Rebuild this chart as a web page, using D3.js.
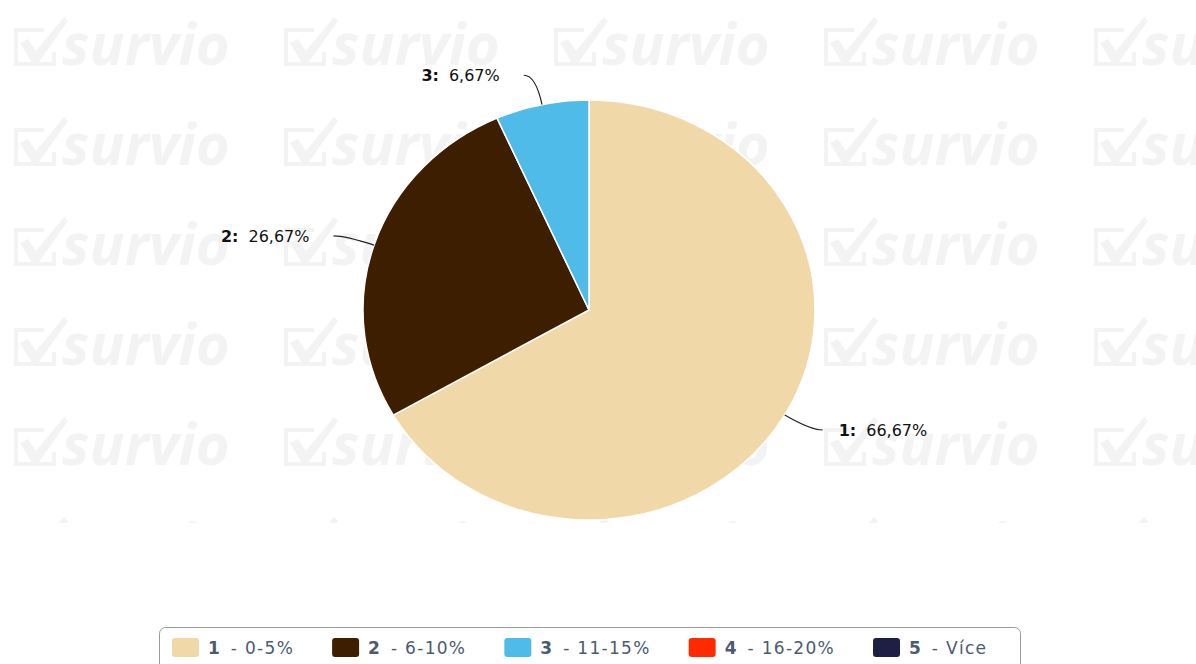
<!DOCTYPE html>
<html>
<head>
<meta charset="utf-8">
<script src="https://cdn.jsdelivr.net/npm/d3@7"></script>
<style>
  body { margin: 0; background: #fff; }
  svg { display: block; font-family: "DejaVu Sans", sans-serif; }
</style>
</head>
<body>
<div id="chart"></div>
<script>
// answer codes, their labels and shares (in %)
var categories = ["1", "2", "3", "4", "5"];
var categoryNames = ["0-5%", "6-10%", "11-15%", "16-20%", "Více"];
var percentages = [66.67, 26.67, 6.67, 0, 0];
var colors = ["#f0d8a8", "#3d1f00", "#4fbbe8", "#ff2a00", "#1e1f45"];

var width = 1196, height = 664;
var cx = 589, cy = 310, ry = 210, rx = 226;

var svg = d3.select("#chart").append("svg")
	.attr("width", width)
	.attr("height", height);

// watermark tiles
var defs = svg.append("defs");
defs.append("clipPath").attr("id", "wm-clip")
	.append("rect").attr("x", 0).attr("y", 0).attr("width", width).attr("height", 523);

var wm = svg.append("g").attr("clip-path", "url(#wm-clip)").attr("fill", "#f3f3f3");
d3.range(0, 6).forEach(function(row) {
	d3.range(0, 5).forEach(function(col) {
		var g = wm.append("g").attr("transform", "translate(" + (12 + col * 270) + "," + (15 + row * 100) + ")");
		// box
		g.append("path")
			.attr("d", "M2,13 H32 V17 H6 V47 H40 V37 H44 V51 H2 Z");
		// check
		g.append("path")
			.attr("d", "M8,28 L16,24 L24,36 L52,2 L56,6 L26,48 L20,48 Z");
		g.append("text")
			.attr("x", 50).attr("y", 50)
			.attr("font-size", 58)
			.attr("font-weight", "bold")
			.attr("font-style", "italic")
			.attr("font-family", "'Open Sans', 'DejaVu Sans', sans-serif")
			.text("survio");
	});
});

// pie
var pie = d3.pie().value(function(d) { return d; }).sort(null);
var arcs = pie(percentages);
var arc = d3.arc().innerRadius(0).outerRadius(ry);

var pieG = svg.append("g")
	.attr("transform", "translate(" + cx + "," + cy + ") scale(" + (rx / ry) + ",1)");

pieG.selectAll("path.slice")
	.data(arcs.filter(function(d) { return d.value > 0; }))
	.enter().append("path")
	.attr("class", "slice")
	.attr("d", arc)
	.attr("fill", function(d) { return colors[d.index]; })
	.attr("stroke", "#fff")
	.attr("stroke-width", 1.5)
	.attr("vector-effect", "non-scaling-stroke");

// labels with connectors
var labelG = svg.append("g");
arcs.filter(function(d) { return d.value > 0; }).forEach(function(d) {
	var a = (d.startAngle + d.endAngle) / 2;
	var sx = Math.sin(a), sy = -Math.cos(a);
	var p0 = [cx + sx * rx, cy + sy * ry];
	var p1 = [cx + sx * (rx + 30), cy + sy * (ry + 30)];
	var side = sx >= 0 ? 1 : -1;
	var p2 = [p1[0] + side * 12, p1[1]];
	labelG.append("path")
		.attr("d", "M" + p0 + " Q" + p1 + " " + p2)
		.attr("fill", "none")
		.attr("stroke", "#222")
		.attr("stroke-width", 1.2);
	var t = labelG.append("text")
		.attr("x", p2[0] + side * (side > 0 ? 16 : 24))
		.attr("y", p2[1] + 6)
		.attr("font-size", 16)
		.attr("fill", "#111")
		.attr("text-anchor", side > 0 ? "start" : "end");
	t.append("tspan").attr("font-weight", "bold").text(categories[d.index] + ":");
	t.append("tspan").attr("dx", 10).text(d3.format(".2f")(d.value).replace(".", ",") + "%");
});

// legend
var legend = svg.append("g");
legend.append("rect")
	.attr("x", 159.5).attr("y", 627.5)
	.attr("width", 861).attr("height", 60)
	.attr("rx", 6)
	.attr("fill", "#fff")
	.attr("stroke", "#999");

var item = legend.selectAll("g.item")
	.data(categories)
	.enter().append("g")
	.attr("class", "item");
item.append("rect")
	.attr("width", 27).attr("height", 19).attr("rx", 3)
	.attr("fill", function(d, i) { return colors[i]; });
var lt = item.append("text")
	.attr("x", 36).attr("y", 16)
	.attr("font-size", 17)
	.attr("fill", "#4b5b72");
lt.append("tspan").attr("font-weight", "bold").text(function(d) { return d; });
lt.append("tspan").attr("dx", 11).attr("letter-spacing", 1.3).text(function(d, i) { return "- " + categoryNames[i]; });

// lay items out one after another
var lx = 172;
item.each(function() {
	var g = d3.select(this);
	g.attr("transform", "translate(" + lx + ",638)");
	var bb = g.select("text").node().getBBox();
	lx += bb.x + bb.width + 38;
});
</script>
</body>
</html>
